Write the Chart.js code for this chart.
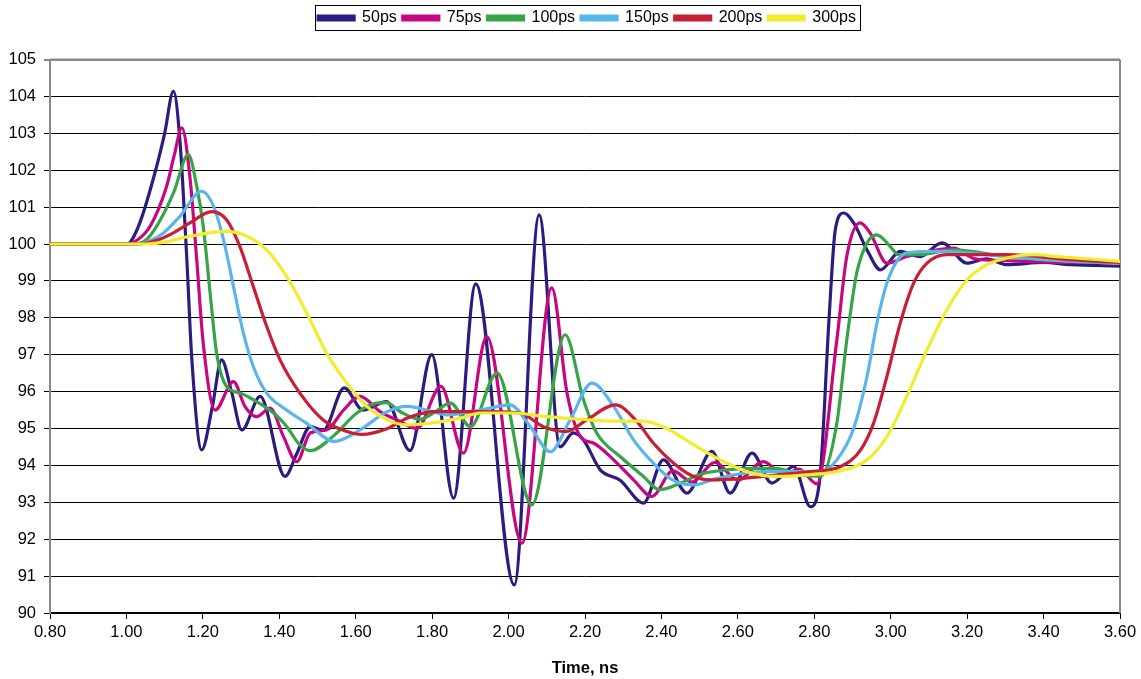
<!DOCTYPE html>
<html><head><meta charset="utf-8">
<script src="https://cdn.jsdelivr.net/npm/chart.js@4.4.1/dist/chart.umd.min.js"></script>
<style>html,body{margin:0;padding:0;background:#fff;}#wrap{position:relative;width:1141px;height:679px;}</style>
</head><body><div id="wrap"><canvas id="c"></canvas></div>
<script>
const seriesNames = ['50ps','75ps','100ps','150ps','200ps','300ps'];
const xTitle = 'Time, ns';
const yTicks = [90,91,92,93,94,95,96,97,98,99,100,101,102,103,104,105];
const xTicks = [0.8,1.0,1.2,1.4,1.6,1.8,2.0,2.2,2.4,2.6,2.8,3.0,3.2,3.4,3.6];

const t50 = [0.80,1.00,1.01,1.036,1.079,1.10,1.123,1.140,1.158,1.171,1.197,1.225,1.249,1.275,1.302,1.35,1.415,1.445,1.481,1.515,1.570,1.619,1.681,1.742,1.799,1.856,1.914,2.015,2.080,2.135,2.169,2.196,2.240,2.292,2.353,2.405,2.467,2.532,2.580,2.637,2.689,2.746,2.790,2.816,2.838,2.855,2.877,2.903,2.940,2.973,3.025,3.077,3.134,3.200,3.250,3.304,3.400,3.470,3.600];
const v50 = [100,100,100.05,100.6,102.1,103.0,104.14,102.8,99.6,96.9,94.42,95.6,96.86,96.0,94.96,95.87,93.70,94.3,95.05,94.95,96.1,95.5,95.73,94.4,97.0,93.11,98.92,90.76,100.79,94.5,94.88,94.69,93.88,93.6,92.98,94.15,93.25,94.38,93.25,94.33,93.52,93.97,92.88,93.8,97.86,100.39,100.84,100.57,99.8,99.30,99.80,99.66,100.03,99.48,99.6,99.44,99.5,99.44,99.4];

const t75 = [0.80,1.00,1.02,1.062,1.105,1.125,1.145,1.166,1.184,1.201,1.232,1.280,1.310,1.341,1.376,1.411,1.446,1.481,1.524,1.568,1.611,1.664,1.708,1.760,1.823,1.882,1.943,2.035,2.113,2.153,2.188,2.223,2.275,2.327,2.375,2.430,2.480,2.540,2.600,2.667,2.720,2.760,2.807,2.859,2.885,2.920,2.946,2.990,3.042,3.100,3.165,3.220,3.300,3.450,3.600];
const v75 = [100,100,100.05,100.48,101.56,102.4,103.15,101.83,99.57,97.31,95.5,96.27,95.6,95.32,95.55,94.78,94.10,94.88,94.96,95.5,95.87,95.46,95.23,95.0,96.14,94.33,97.49,91.89,98.81,95.96,94.78,94.6,94.15,93.61,93.16,93.85,93.55,94.08,93.6,94.1,93.74,93.9,93.5,97.4,99.66,100.57,100.3,99.48,99.66,99.8,99.89,99.6,99.55,99.5,99.5];

const t100 = [0.80,1.02,1.05,1.079,1.123,1.162,1.184,1.201,1.219,1.236,1.262,1.297,1.332,1.385,1.420,1.450,1.481,1.542,1.603,1.655,1.680,1.716,1.768,1.803,1.848,1.900,1.970,2.061,2.148,2.196,2.231,2.292,2.353,2.395,2.450,2.502,2.571,2.658,2.700,2.764,2.816,2.859,2.885,2.911,2.938,2.964,2.999,3.020,3.077,3.165,3.304,3.478,3.600];
const v100 = [100,100,100.1,100.48,101.38,102.42,101.56,100.48,98.67,97.04,96.14,95.96,95.78,95.42,95.05,94.6,94.4,94.8,95.42,95.69,95.7,95.46,95.25,95.42,95.69,95.05,96.5,92.93,97.54,95.78,94.87,94.24,93.70,93.34,93.52,93.76,93.88,93.92,93.92,93.74,93.7,95.14,97.40,99.21,100.03,100.25,99.93,99.71,99.71,99.84,99.66,99.53,99.5];

const t150 = [0.80,1.03,1.06,1.097,1.140,1.197,1.228,1.254,1.280,1.306,1.332,1.367,1.419,1.472,1.545,1.611,1.681,1.734,1.800,1.838,1.926,2.004,2.057,2.109,2.161,2.218,2.275,2.327,2.379,2.430,2.485,2.536,2.624,2.702,2.816,2.859,2.903,2.938,2.964,2.990,3.016,3.042,3.130,3.304,3.478,3.600];
const v150 = [100,100,100.08,100.30,100.75,101.43,101.02,100.12,98.85,97.59,96.68,95.96,95.5,95.14,94.65,94.96,95.45,95.6,95.46,95.37,95.5,95.64,95.05,94.37,95.23,96.23,95.6,94.69,94.06,93.6,93.47,93.62,93.8,93.83,93.83,94.15,95.0,96.41,97.86,98.94,99.53,99.76,99.80,99.66,99.53,99.5];

const t200 = [0.80,1.03,1.08,1.123,1.166,1.223,1.262,1.297,1.332,1.367,1.402,1.454,1.515,1.577,1.615,1.685,1.734,1.803,1.838,1.926,2.030,2.091,2.152,2.204,2.280,2.335,2.379,2.432,2.480,2.528,2.615,2.702,2.790,2.869,2.920,2.955,2.990,3.025,3.060,3.095,3.147,3.304,3.478,3.600];
const v200 = [100,100,100.1,100.30,100.57,100.88,100.66,99.93,98.85,97.77,96.86,95.96,95.23,94.92,94.84,95.01,95.28,95.46,95.46,95.46,95.42,95.05,94.92,95.23,95.64,95.2,94.60,94.06,93.72,93.61,93.65,93.74,93.83,93.97,94.4,95.14,96.41,97.86,98.94,99.48,99.71,99.71,99.57,99.5];

const t300 = [0.80,1.05,1.10,1.166,1.262,1.315,1.367,1.419,1.472,1.524,1.577,1.629,1.690,1.734,1.800,1.873,1.926,2.013,2.100,2.188,2.275,2.353,2.414,2.484,2.554,2.624,2.702,2.790,2.859,2.938,2.990,3.042,3.095,3.147,3.200,3.252,3.304,3.374,3.435,3.600];
const v300 = [100,100,100.05,100.21,100.34,100.21,99.84,99.12,98.13,97.04,96.23,95.6,95.2,95.10,95.15,95.28,95.42,95.42,95.32,95.25,95.2,95.2,95.0,94.56,94.15,93.83,93.70,93.75,93.83,94.15,94.78,95.87,97.13,98.22,99.03,99.44,99.62,99.71,99.66,99.53];

const seriesT = [t50,t75,t100,t150,t200,t300];
const seriesV = [v50,v75,v100,v150,v200,v300];
const colors = ['#2E1B80','#C8067F','#37A447','#5BB5EA','#C71F35','#F2EC2E'];

const FONT = "'Liberation Sans', Arial, Helvetica, sans-serif";
const LEGEND_SHIFT = 27;

const datasets = seriesNames.map((n,i)=>({
  label: n,
  data: seriesT[i].map((t,k)=>({x:t, y:seriesV[i][k]})),
  xAxisID: 'x',
  yAxisID: 'y',
  borderColor: colors[i],
  backgroundColor: colors[i],
  borderWidth: 3.2,
  pointRadius: 0,
  fill: false,
  cubicInterpolationMode: 'monotone',
  order: seriesNames.length - i
}));

const frame = {
  id: 'frame',
  afterInit(chart){
    const lg = chart.legend;
    if(lg && !lg._shifted){
      const d = lg.draw.bind(lg);
      lg.draw = function(){
        const ctx = this.ctx;
        ctx.save(); ctx.translate(LEGEND_SHIFT, 0); d();
        const hb = this.legendHitBoxes || [];
        if(hb.length){
          let l = Infinity, r = -Infinity, t = Infinity, b = -Infinity;
          hb.forEach(h=>{ l=Math.min(l,h.left); r=Math.max(r,h.left+h.width); t=Math.min(t,h.top); b=Math.max(b,h.top+h.height);});
          ctx.strokeStyle = '#000'; ctx.lineWidth = 1;
          ctx.strokeRect(Math.round(l-3)+0.5, Math.round(t-5)+0.5, Math.round(r-l+7), Math.round(b-t+9));
        }
        ctx.restore();
      };
      lg._shifted = true;
    }
  },
  beforeDatasetsDraw(chart){
    const {ctx, chartArea:a} = chart;
    ctx.save();
    ctx.strokeStyle = '#8a8a8a';
    ctx.lineWidth = 2;
    ctx.beginPath();
    ctx.moveTo(a.left, a.top); ctx.lineTo(a.right, a.top);
    ctx.moveTo(a.right, a.top); ctx.lineTo(a.right, a.bottom);
    ctx.stroke();
    ctx.restore();
  }
};

new Chart(document.getElementById('c'), {
  type: 'line',
  data: { datasets },
  options: {
    responsive: true,
    maintainAspectRatio: false,
    animation: false,
    devicePixelRatio: 1,
    layout: { padding: { left: 0, right: 21, top: 4, bottom: 0 } },
    plugins: {
      legend: {
        display: true,
        position: 'top',
        labels: {
          boxWidth: 36, boxHeight: 4, padding: 6,
          color: '#000',
          font: { family: FONT, size: 16 },
          sort: (a,b)=>a.datasetIndex-b.datasetIndex
        }
      },
      tooltip: { enabled: false }
    },
    scales: {
      x: {
        type: 'linear',
        position: 'bottom',
        min: 0.8, max: 3.6,
        afterBuildTicks(scale){ scale.ticks = xTicks.map(v=>({value:v})); },
        ticks: {
          color: '#000', padding: 4, maxRotation: 0, autoSkip: false,
          font: { family: FONT, size: 16.5 },
          callback: v => Number(v).toFixed(2)
        },
        grid: { drawOnChartArea: false, drawTicks: true, tickLength: 6, color: '#000', lineWidth: 1 },
        border: { color: '#000', width: 1.5 },
        title: { display: true, text: xTitle, color: '#000', font: { family: FONT, size: 16.5, weight: 'bold' }, padding: { top: 4, bottom: 1 } },
        afterFit(scale){ scale.height = 66; }
      },
      y: {
        type: 'linear',
        min: 90, max: 105,
        afterBuildTicks(scale){ scale.ticks = yTicks.map(v=>({value:v})); },
        ticks: { color: '#000', padding: 8, font: { family: FONT, size: 16.5 }, autoSkip: false },
        grid: {
          drawTicks: true, tickLength: 6,
          color: c => (c.tick && c.tick.value === 105) ? '#8a8a8a' : '#000',
          lineWidth: c => (c.tick && c.tick.value === 105) ? 2 : 1
        },
        border: { color: '#8a8a8a', width: 2 },
        afterFit(scale){ scale.width = 50; }
      },
      xTop: {
        type: 'linear', position: 'top', display: true, min: 0, max: 1,
        ticks: { display: false }, grid: { display: false }, border: { display: false },
        afterFit(scale){ scale.height = 23.5; }
      }
    }
  },
  plugins: [frame]
});
</script>
</body></html>
